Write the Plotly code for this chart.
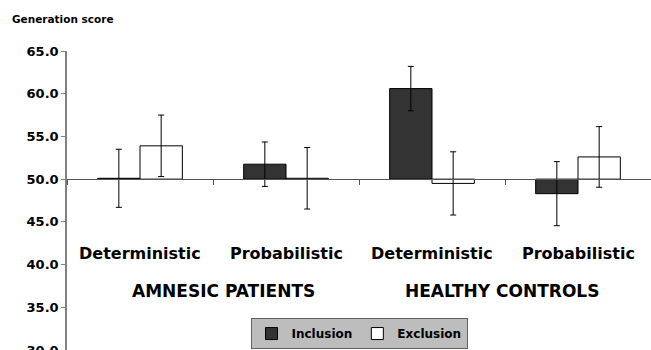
import plotly.graph_objects as go

# Generation scores (means and error half-widths) by condition
categories = ["AP_Det", "AP_Prob", "HC_Det", "HC_Prob"]
sub_labels = ["Deterministic", "Probabilistic", "Deterministic", "Probabilistic"]
group_labels = ["AMNESIC PATIENTS", "HEALTHY CONTROLS"]
group_positions = [0.57, 2.48]

inclusion = [50.1, 51.75, 60.6, 48.3]
inclusion_err = [3.4, 2.6, 2.6, 3.75]
exclusion = [53.9, 50.1, 49.5, 52.6]
exclusion_err = [3.6, 3.6, 3.7, 3.55]

baseline = 50.0
y_ticks = [30, 35, 40, 45, 50, 55, 60, 65]

FONT = "DejaVu Sans"
W, H = 651, 350
ML, MT = 67, 51

fig = go.Figure()
fig.add_trace(go.Bar(
    name="<b>Inclusion</b>", x=categories, y=[v - baseline for v in inclusion], base=baseline,
    marker=dict(color="#333333", line=dict(color="#000000", width=1)),
    error_y=dict(type="data", array=inclusion_err, color="#000000", thickness=1, width=3),
))
fig.add_trace(go.Bar(
    name="<b>Exclusion</b>", x=categories, y=[v - baseline for v in exclusion], base=baseline,
    marker=dict(color="#ffffff", line=dict(color="#000000", width=1)),
    error_y=dict(type="data", array=exclusion_err, color="#000000", thickness=1, width=3),
))

annotations = []
for cat, lab in zip(categories, sub_labels):
    annotations.append(dict(x=cat, y=41.35, xref="x", yref="y", text="<b>%s</b>" % lab,
                            showarrow=False, font=dict(family=FONT, size=16, color="#000")))
for pos, lab in zip(group_positions, group_labels):
    annotations.append(dict(x=pos, y=36.85, xref="x", yref="y", text="<b>%s</b>" % lab,
                            showarrow=False, font=dict(family=FONT, size=17, color="#000")))
# axis title, placed above the top-left corner
annotations.append(dict(x=(10 - ML) / (W - ML), y=1 + (MT - 19) / (H - MT),
                        xref="paper", yref="paper", text="<b>Generation score</b>",
                        showarrow=False, xanchor="left", yanchor="middle",
                        font=dict(family=FONT, size=10.5, color="#000")))

fig.update_layout(
    width=W, height=H,
    margin=dict(l=ML, r=0, t=MT, b=0, autoexpand=False),
    paper_bgcolor="#ffffff", plot_bgcolor="#ffffff",
    barmode="group", bargap=0.42, bargroupgap=0,
    font=dict(family=FONT, color="#000"),
    showlegend=True,
    legend=dict(orientation="h", x=0.5, xanchor="center", y=0.055, yanchor="middle",
                bgcolor="#bdbdbd", bordercolor="#606060", borderwidth=1,
                font=dict(family=FONT, size=12, color="#000"),
                itemwidth=30, tracegroupgap=0),
    xaxis=dict(
        type="category", range=[-0.5, 3.5],
        anchor="free", position=(baseline - 30) / (65 - 30),
        showline=True, linecolor="#555555", linewidth=1,
        tickmode="array", tickvals=[-0.5, 0.5, 1.5, 2.5, 3.5], ticktext=[""] * 5,
        ticks="outside", ticklen=5, tickcolor="#555555",
        showgrid=False, zeroline=False,
    ),
    yaxis=dict(
        range=[30, 65], tickmode="array", tickvals=y_ticks,
        ticktext=["<b>%.1f</b>" % v for v in y_ticks],
        showline=True, linecolor="#808080", linewidth=1.5,
        ticks="outside", ticklen=4, tickcolor="#808080",
        tickfont=dict(family=FONT, size=13, color="#000"),
        ticklabeloverflow="allow",
        showgrid=False, zeroline=False,
    ),
    annotations=annotations,
)

fig.write_html("out.html")
